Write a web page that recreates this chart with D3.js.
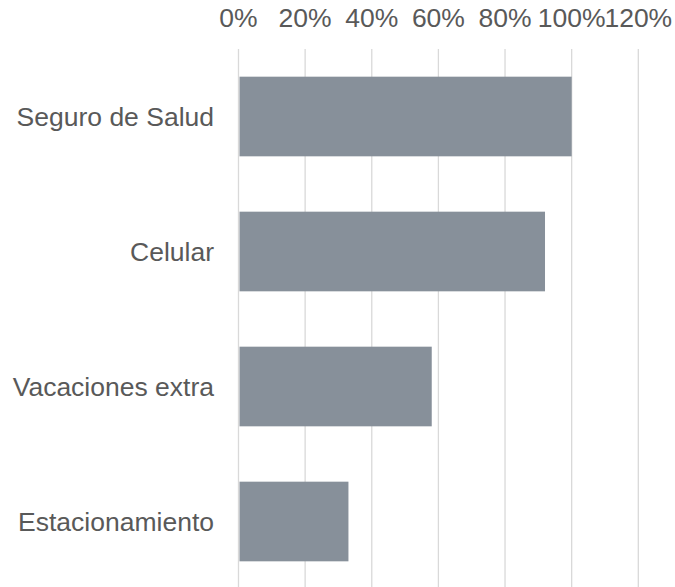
<!DOCTYPE html>
<html>
<head>
<meta charset="utf-8">
<script src="https://cdn.jsdelivr.net/npm/d3@7"></script>
<style>
  body { margin: 0; background: #fff; }
  text { font-family: Arial, "Liberation Sans", sans-serif; fill: #595959; }
</style>
</head>
<body>
<svg id="chart" width="675" height="587"></svg>
<script>
// data
var categories = ["Seguro de Salud", "Celular", "Vacaciones extra", "Estacionamiento"];
var values = [1.00, 0.92, 0.58, 0.33];
var tickValues = [0, 0.2, 0.4, 0.6, 0.8, 1.0, 1.2];

var svg = d3.select("#chart");

var x = d3.scaleLinear()
    .domain([0, 1.2])
    .range([238.5, 638.3]);

var y = d3.scaleBand()
    .domain(categories)
    .range([49, 589])
    .paddingInner(0.41)
    .paddingOuter(0.205);

// gridlines
svg.append("g")
    .selectAll("line")
    .data(tickValues)
    .enter()
    .append("line")
    .attr("x1", function(d){ return x(d); })
    .attr("x2", function(d){ return x(d); })
    .attr("y1", 49)
    .attr("y2", 587)
    .attr("stroke", "#d9d9d9")
    .attr("stroke-width", 1.3);

// top axis labels
svg.append("g")
    .selectAll("text")
    .data(tickValues)
    .enter()
    .append("text")
    .attr("x", function(d){ return x(d); })
    .attr("y", 27)
    .attr("text-anchor", "middle")
    .style("font-size", "26.5px")
    .text(d3.format(".0%"));

// bars
svg.append("g")
    .selectAll("rect")
    .data(values)
    .enter()
    .append("rect")
    .attr("x", x(0) + 1)
    .attr("y", function(d, i){ return y(categories[i]); })
    .attr("width", function(d){ return x(d) - x(0) - 1; })
    .attr("height", y.bandwidth())
    .attr("fill", "#87909a");

// category labels
svg.append("g")
    .selectAll("text")
    .data(categories)
    .enter()
    .append("text")
    .attr("x", 214)
    .attr("y", function(d){ return y(d) + y.bandwidth() / 2; })
    .attr("dy", "0.35em")
    .attr("text-anchor", "end")
    .style("font-size", "26.5px")
    .text(function(d){ return d; });
</script>
</body>
</html>
